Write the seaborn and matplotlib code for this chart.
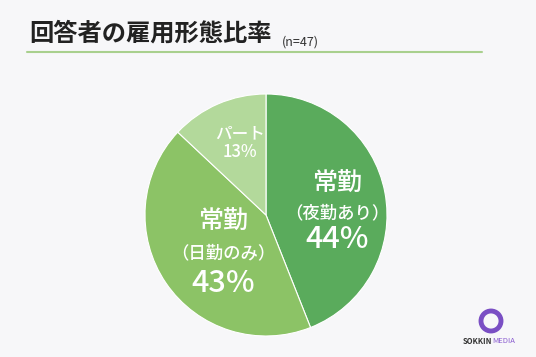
import matplotlib.pyplot as plt
import seaborn as sns
from matplotlib.patches import Circle

# data
categories = ['常勤\n（夜勤あり）', '常勤\n（日勤のみ）', 'パート']
shares = [44, 43, 13]
colors = ['#5aab5c', '#8cc366', '#b3d99b']
title = '回答者の雇用形態比率'
sample_note = '(n=47)'

sns.set_theme(style='white')
plt.rcParams['font.family'] = ['Noto Sans CJK JP', 'DejaVu Sans']

W, H = 536, 357
bg = '#f7f7f9'
fig = plt.figure(figsize=(W / 100, H / 100), dpi=100, facecolor=bg)

def fx(x):
    return x / W

def fy(y):
    return 1 - y / H

# pie, centre (266, 215) px, radius 121 px
cx, cy, r = 266, 215, 121
ax = fig.add_axes([fx(cx - r), fy(cy + r), 2 * r / W, 2 * r / H])
ax.pie(shares, colors=colors, startangle=90, counterclock=False,
       wedgeprops=dict(edgecolor='white', linewidth=0.8))
ax.set_xlim(-1, 1)
ax.set_ylim(-1, 1)
ax.set_facecolor(bg)

# slice labels (pixel positions of each text line)
label_pos = [
    [(337, 184, 18), (337, 213, 12.5), (337, 240, 22)],
    [(223, 222, 18), (223, 253, 12.5), (223, 283, 22)],
    [(240, 133, 12), (240, 152, 12)],
]
for cat, val, pos in zip(categories, shares, label_pos):
    lines = cat.split('\n') + [f'{val}%']
    for txt, (x, y, fs) in zip(lines, pos):
        fig.text(fx(x), fy(y), txt, color='white', fontsize=fs,
                 fontweight='medium', ha='center', va='center')

# title and rule
fig.text(fx(29), fy(34), title, fontsize=17.5, fontweight='bold',
         color='#222222', ha='left', va='center')
fig.text(fx(282), fy(42), sample_note, fontsize=9, color='#333333',
         ha='left', va='center')
fig.add_artist(plt.Line2D([fx(27), fx(482)], [fy(52), fy(52)],
                          color='#a9d08e', linewidth=1.5))

# logo
lax = fig.add_axes([0, 0, 1, 1], facecolor='none')
lax.set_xlim(0, W)
lax.set_ylim(H, 0)
lax.axis('off')
lax.add_patch(Circle((491, 321), 10, fill=False, edgecolor='#7a4fc4', linewidth=3.5))
lax.text(492, 341, 'SOKKIN', fontsize=5.5, fontweight='bold', color='#333333',
         ha='right', va='center')
lax.text(492, 341, 'MEDIA', fontsize=5.5, color='#8a5cd0', ha='left', va='center')

fig.savefig('out.png', dpi=100, facecolor=bg)
